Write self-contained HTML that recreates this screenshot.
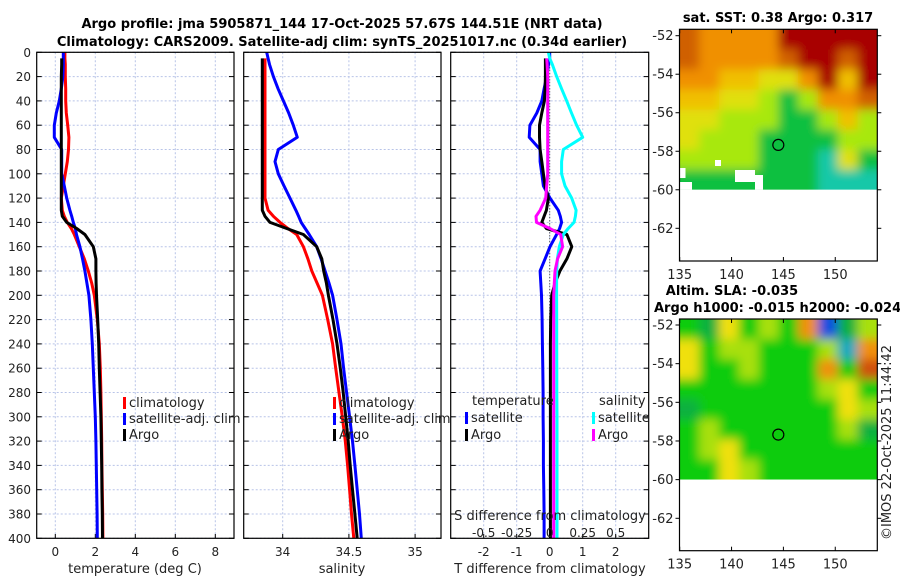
<!DOCTYPE html>
<html><head><meta charset="utf-8"><style>
body{margin:0;background:#fff;}
svg{display:block;font-family:"DejaVu Sans","Liberation Sans",sans-serif;}
</style></head><body>
<svg id="c" width="900" height="580" viewBox="0 0 900 580"></svg>
<script>
const depths=[0,5,10,20,30,40,50,60,70,80,90,100,110,120,130,135,140,145,150,160,170,180,190,200,220,240,260,280,300,320,340,360,380,400];
const climT=[0.48,0.48,0.5,0.5,0.52,0.52,0.55,0.62,0.68,0.66,0.6,0.5,0.4,0.3,0.35,0.45,0.6,0.8,0.95,1.2,1.45,1.65,1.82,1.95,2.1,2.2,2.25,2.28,2.3,2.32,2.33,2.35,2.37,2.38];
const satT=[0.4,0.4,0.4,0.38,0.3,0.2,0.05,-0.05,-0.05,0.32,0.32,0.32,0.45,0.57,0.73,0.82,0.9,1.0,1.06,1.23,1.36,1.48,1.58,1.68,1.78,1.85,1.9,1.95,2.0,2.03,2.05,2.07,2.09,2.1];
const argoT=[null,0.32,0.32,0.3,0.3,0.3,0.3,0.3,0.3,0.3,0.3,0.3,0.3,0.3,0.3,0.35,0.57,1.07,1.48,1.9,2.03,2.03,2.04,2.06,2.12,2.17,2.2,2.24,2.28,2.3,2.32,2.33,2.35,2.36];
const climS=[null,33.866,33.866,33.866,33.866,33.866,33.866,33.866,33.866,33.866,33.866,33.866,33.866,33.866,33.89,33.93,33.98,34.04,34.106,34.156,34.19,34.22,34.26,34.3,34.34,34.377,34.4,34.425,34.45,34.473,34.49,34.505,34.52,34.537];
const satS=[33.879,33.89,33.9,33.93,33.965,34.005,34.045,34.08,34.11,33.967,33.942,33.967,34.01,34.055,34.1,34.12,34.14,34.17,34.2,34.257,34.29,34.32,34.35,34.377,34.41,34.44,34.46,34.483,34.505,34.527,34.545,34.563,34.58,34.594];
const argoS=[null,33.846,33.846,33.846,33.846,33.846,33.846,33.846,33.846,33.846,33.846,33.846,33.846,33.846,33.846,33.866,33.904,34.03,34.156,34.257,34.295,34.31,34.33,34.345,34.38,34.41,34.435,34.457,34.476,34.495,34.51,34.527,34.545,34.563];
const satdT=[0,0,-0.04,-0.09,-0.17,-0.24,-0.39,-0.6,-0.62,-0.29,-0.29,-0.24,-0.19,0.01,0.26,0.32,0.36,0.3,0.21,0.01,-0.14,-0.29,-0.27,-0.25,-0.23,-0.22,-0.21,-0.2,-0.2,-0.19,-0.19,-0.18,-0.17,-0.17];
const argodT=[null,-0.13,-0.13,-0.13,-0.14,-0.16,-0.24,-0.31,-0.31,-0.29,-0.24,-0.19,-0.14,-0.04,-0.1,-0.17,-0.24,-0.1,0.52,0.67,0.52,0.31,0.16,0.06,0.03,0.02,0.02,0.02,0.02,0.02,0.02,0.02,0.02,0.02];
const satdS=[-0.01,0.0,0.02,0.053,0.09,0.129,0.165,0.204,0.25,0.103,0.09,0.09,0.116,0.167,0.2,0.195,0.184,0.14,0.103,0.073,0.058,0.053,0.052,0.052,0.053,0.053,0.054,0.054,0.055,0.055,0.055,0.055,0.055,0.055];
const argodS=[null,-0.023,-0.02,-0.015,-0.015,-0.015,-0.015,-0.015,-0.015,-0.015,-0.015,-0.015,-0.023,-0.03,-0.073,-0.104,-0.1,0.002,0.083,0.098,0.06,0.04,0.035,0.03,0.03,0.03,0.03,0.03,0.03,0.03,0.03,0.03,0.03,0.03];
const depthTicks=[0,20,40,60,80,100,120,140,160,180,200,220,240,260,280,300,320,340,360,380,400];
const tTicks=[0,2,4,6,8];
const sTicks=[34,34.5,35];
const dTTicks=[-2,-1,0,1,2];
const dSTickLabels=["-0.5","-0.25","0","0.25","0.5"];
const dSTicks=[-0.5,-0.25,0,0.25,0.5];
// SST map grid (levels 0..7), rows top->bottom
const sstGrid=[
[6,5,5,5,5,7,7,7,7,7],
[6,5,5,5,5,6,7,7,6,7],
[5,5,4,4,3,3,5,7,4,7],
[4,4,3,3,2,1,2,5,5,6],
[3,3,2,2,2,1,1,2,4,2],
[3,2,2,2,1,1,1,1,2,2],
[2,2,2,2,1,1,1,0,3,1],
[1,1,1,1,1,1,1,0,0,0]];
const sstColors=["#18c8a8","#10c040","#a8e810","#e0e010","#f0c000","#f09000","#d06000","#a80000"];
const slaGrid=[
[3,2,5,3,4,3,6,0,2,4],
[5,3,4,4,3,3,3,4,1,6],
[5,3,3,4,3,3,3,6,3,7],
[3,3,3,3,3,3,3,4,5,3],
[2,3,3,3,3,3,3,3,5,4],
[3,4,3,3,3,3,3,3,4,2],
[3,4,5,3,3,3,3,3,3,3],
[3,3,5,4,3,3,3,3,3,3]];
const slaColors=["#1050e0","#10a8c0","#10b040","#10cc10","#a8e010","#f0e010","#f09010","#d05010"];

const NS="http://www.w3.org/2000/svg";
const svg=document.getElementById('c');
function mk(tag,attrs,parent){const e=document.createElementNS(NS,tag);for(const k in attrs)e.setAttribute(k,attrs[k]);(parent||svg).appendChild(e);return e;}
function txt(s,x,y,attrs,name){const e=mk('text',Object.assign({x:x,y:y,'font-size':12,fill:'#222'},attrs||{}));e.textContent=s;


return e;}
const Y0=52.3,YS=(538.3-52.3)/400;
function yD(d){return Y0+d*YS;}
const panels=[
 {x0:36.7,x1:234,v0:-0.93,k:20.0,c0:55.3,name:'temperature-panel'},
 {x0:243.7,x1:441,k:132.4,c0:282.7-34*132.4,name:'salinity-panel'},
 {x0:450.7,x1:648.7,k:33,c0:549.7,name:'difference-panel'}];
function xP(p,v){return p.c0+p.k*v;}
// titles
txt("Argo profile: jma 5905871_144 17-Oct-2025 57.67S 144.51E (NRT data)",342,28,{'text-anchor':'middle','font-weight':'bold','font-size':13,fill:'#000'},'title-line-1');
txt("Climatology: CARS2009. Satellite-adj clim: synTS_20251017.nc (0.34d earlier)",342,46,{'text-anchor':'middle','font-weight':'bold','font-size':13,fill:'#000'},'title-line-2');

panels.forEach((p,pi)=>{
 const g=mk('g',{});
 
 
 const ticks=pi==0?tTicks:pi==1?sTicks:dTTicks;
 ticks.forEach(t=>{const x=xP(p,t);
  const l=mk('line',{x1:x,x2:x,y1:Y0,y2:538.3,stroke:'#b8c4e8','stroke-width':1,'stroke-dasharray':'2,2'},g);
  
  
  mk('line',{x1:x,x2:x,y1:538.3,y2:534,stroke:'#000'},g);
  const lab=txt(String(t),x,556,{'text-anchor':'middle'},'x-tick-label');});
 depthTicks.forEach(d=>{const y=yD(d);
  const l=mk('line',{x1:p.x0,x2:p.x1,y1:y,y2:y,stroke:'#b8c4e8','stroke-width':1,'stroke-dasharray':'2,2'},g);
  
  
  mk('line',{x1:p.x0,x2:p.x0+5,y1:y,y2:y,stroke:'#000'},g);
  mk('line',{x1:p.x1,x2:p.x1-5,y1:y,y2:y,stroke:'#000'},g);
  if(pi==0) txt(String(d),31,y+4.5,{'text-anchor':'end'},'y-tick-label');});
});
function series(p,vals,color,name,w){
 let d='';let pen=false;
 depths.forEach((dep,i)=>{const v=vals[i];if(v===null){pen=false;return;}
  d+=(pen?'L':'M')+xP(p,v).toFixed(1)+' '+yD(dep).toFixed(1)+' ';pen=true;});
 const e=mk('path',{d:d,fill:'none',stroke:color,'stroke-width':w||3,'stroke-linejoin':'round'});
 
 
}
const P=panels;
series(P[0],climT,'#ff0000','temp-climatology-line');
series(P[0],satT,'#0000ff','temp-satellite-line');
series(P[0],argoT,'#000000','temp-argo-line');
series(P[1],climS,'#ff0000','sal-climatology-line');
series(P[1],satS,'#0000ff','sal-satellite-line');
series(P[1],argoS,'#000000','sal-argo-line');
// zero line diff
const zl=mk('line',{x1:P[2].c0,x2:P[2].c0,y1:Y0,y2:538.3,stroke:'#333','stroke-dasharray':'1,2'});


const PS={c0:P[2].c0,k:P[2].k*4};
series(P[2],satdT,'#0000ff','tdiff-satellite-line');
series(P[2],argodT,'#000000','tdiff-argo-line');
series(PS,satdS,'#00ffff','sdiff-satellite-line');
series(PS,argodS,'#ff00ff','sdiff-argo-line');
// frames
panels.forEach(p=>{const r=mk('rect',{x:p.x0,y:Y0,width:p.x1-p.x0,height:538.3-Y0,fill:'none',stroke:'#000','stroke-width':1.2});
 
 });
txt("temperature (deg C)",135,573,{'text-anchor':'middle','font-size':13},'x-axis-title-temperature');
txt("salinity",342,573,{'text-anchor':'middle','font-size':13},'x-axis-title-salinity');
txt("T difference from climatology",550,573,{'text-anchor':'middle','font-size':13},'x-axis-title-tdiff');
txt("S difference from climatology",550,520,{'text-anchor':'middle','font-size':13},'sdiff-axis-title');
dSTicks.forEach((t,i)=>txt(dSTickLabels[i],PS.c0+PS.k*t,537,{'text-anchor':'middle','font-size':12},'sdiff-tick-label'));
// legends
function legend(x,y,color,label){
 const b=mk('rect',{x:x,y:y-10,width:3,height:12,fill:color});
 
 
 txt(label,x+6,y,{'font-size':13},'legend-entry');}
legend(123,407,'#ff0000','climatology');legend(123,423,'#0000ff','satellite-adj. clim');legend(123,439,'#000','Argo');
legend(333,407,'#ff0000','climatology');legend(333,423,'#0000ff','satellite-adj. clim');legend(333,439,'#000','Argo');
txt('temperature',472,405,{'font-size':13},'legend-title-temperature');
legend(465,422,'#0000ff','satellite');legend(465,439,'#000','Argo');
txt('salinity',599,405,{'font-size':13},'legend-title-salinity');
legend(592,422,'#00ffff','satellite');legend(592,439,'#ff00ff','Argo');

// maps
const lonTicks=[135,140,145,150];const latTicks=[-52,-54,-56,-58,-60,-62];
function map(top,bottom,lat52y,lat62y,grid,colors,name,blanks){
 const L=679.5,R=877.3;const lx=lon=>679.7+(lon-135)*10.37;
 const ly=lat=>lat52y+(lat+52)/-10*(lat62y-lat52y)*-1;
 const latY=lat=>lat52y+(-52-lat)*(lat62y-lat52y)/10;
 const g=mk('g',{});
 
 
 const yb=latY(-60);const rows=grid.length,cols=grid[0].length;
 const cw=(R-L)/cols,ch=(yb-top)/rows;
 const id='cl'+name;
 const cp=mk('clipPath',{id:id},g);mk('rect',{x:L,y:top,width:R-L,height:yb-top},cp);
 const f=mk('filter',{id:'bl'+name,x:'-10%',y:'-10%',width:'120%',height:'120%'},g);
 mk('feGaussianBlur',{stdDeviation:5},f);
 const cg=mk('g',{'clip-path':'url(#'+id+')'},g);
 const ig=mk('g',{filter:'url(#bl'+name+')'},cg);
 grid.forEach((row,ri)=>row.forEach((v,ci)=>{
  const c=mk('rect',{x:L+ci*cw-(ci==0?12:0),y:top+ri*ch-(ri==0?12:0),width:cw+1+(ci==0||ci==cols-1?12:0),height:ch+1+(ri==0||ri==rows-1?12:0),fill:colors[v]},ig);
  
  }));
 (blanks||[]).forEach(b=>mk('rect',{x:b[0],y:b[1],width:b[2],height:b[3],fill:'#fff'},cg));
 mk('rect',{x:L,y:yb,width:R-L,height:bottom-yb,fill:'#fff'},g);
 const cx=lx(144.51),cy=latY(-57.67);
 const m=mk('circle',{cx:cx,cy:cy,r:5.5,fill:'none',stroke:'#000','stroke-width':1.2},g);
 
 
 const fr=mk('rect',{x:L,y:top,width:R-L,height:bottom-top,fill:'none',stroke:'#000','stroke-width':1.2},g);
 
 
 lonTicks.forEach(t=>{const x=lx(t);mk('line',{x1:x,x2:x,y1:bottom,y2:bottom-4,stroke:'#000'},g);mk('line',{x1:x,x2:x,y1:top,y2:top+4,stroke:'#000'},g);
  txt(String(t),x,bottom+18,{'text-anchor':'middle','font-size':13},'map-lon-tick');});
 latTicks.forEach(t=>{const y=latY(t);mk('line',{x1:L,x2:L-4,y1:y,y2:y,stroke:'#000'},g);mk('line',{x1:R,x2:R+4,y1:y,y2:y,stroke:'#000'},g);
  txt(String(t),L-6,y+4.5,{'text-anchor':'end','font-size':13},'map-lat-tick');});
}
map(29.3,261,35.7,228.3,sstGrid,sstColors,'sst-map',[[679.5,168,6,10],[680,182,12,10],[735,170,20,12],[755,175,8,15],[715,160,6,6]]);
map(319,550.7,325,518.3,slaGrid,slaColors,'sla-map');
txt("sat. SST: 0.38 Argo: 0.317",778,22,{'text-anchor':'middle','font-weight':'bold','font-size':13,fill:'#000'},'sst-map-title');
txt("Altim. SLA: -0.035",732,295,{'text-anchor':'middle','font-weight':'bold','font-size':13,fill:'#000'},'sla-map-title');
txt("Argo h1000: -0.015 h2000: -0.024",654,312,{'font-weight':'bold','font-size':13,fill:'#000'},'sla-map-subtitle');
txt("©IMOS 22-Oct-2025 11:44:42",0,0,{transform:'translate(891,540) rotate(-90)','font-size':13},'imos-timestamp');
</script>
</body></html>
